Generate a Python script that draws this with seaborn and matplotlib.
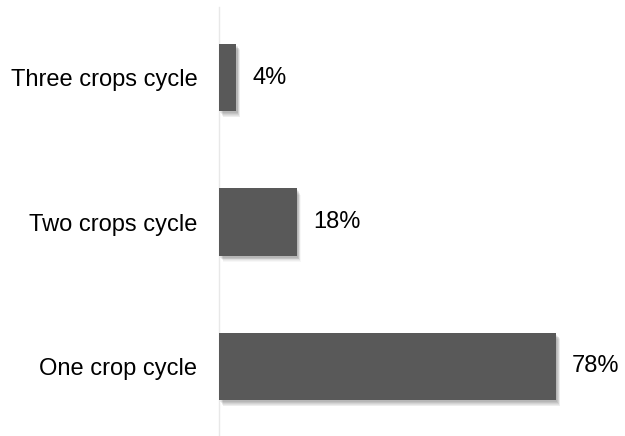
import matplotlib
matplotlib.use("Agg")
import matplotlib.pyplot as plt
import matplotlib.patheffects as pe
import seaborn as sns
import pandas as pd

categories = ["Three crops cycle", "Two crops cycle", "One crop cycle"]
shares = [4, 18, 78]
labels = ["4%", "18%", "78%"]

df = pd.DataFrame({"cycle": categories, "share": shares})

sns.set_theme(style="white")
plt.rcParams["font.family"] = ["Liberation Sans", "DejaVu Sans"]

fig = plt.figure(figsize=(6.25, 4.36), dpi=100)
ax = fig.add_axes([219 / 625, 0.0, 1 - 219 / 625, 1 - 7 / 436])

sns.barplot(data=df, y="cycle", x="share", orient="h", color="#595959",
            width=0.465, saturation=1, ax=ax, zorder=3)

# soft drop shadow under each bar
shadow = []
for i, a in enumerate([0.07, 0.07, 0.06, 0.05, 0.04, 0.03]):
    shadow.append(pe.SimplePatchShadow(offset=(1 + i * 0.4, -1.5 - i * 0.6),
                                       shadow_rgbFace="black", alpha=a))
shadow.append(pe.Normal())
for p in ax.patches:
    p.set_path_effects(shadow)
    p.set_edgecolor("none")

for p, lab in zip(ax.patches, labels):
    y = p.get_y() + p.get_height() / 2
    ax.text(p.get_width() + 3.7, y, lab, va="center", ha="left",
            fontsize=17, color="black")

# vertical extent: bar spacing 144.5 px, first bar centred 70.5 px below axes top
ppu = 144.5
ax.set_ylim(2 + (436 - 366.5) / ppu, -70.5 / ppu)
ax.set_xlim(0, (625 - 219) / (337 / 78))

ax.set_xlabel("")
ax.set_ylabel("")
ax.set_xticks([])
ax.tick_params(axis="y", length=0, pad=15.5, labelsize=17, labelcolor="black")
for s in ["top", "right", "bottom"]:
    ax.spines[s].set_visible(False)
ax.spines["left"].set_color("#e8e8e8")
ax.spines["left"].set_linewidth(1)

fig.savefig("out.png", dpi=100)
